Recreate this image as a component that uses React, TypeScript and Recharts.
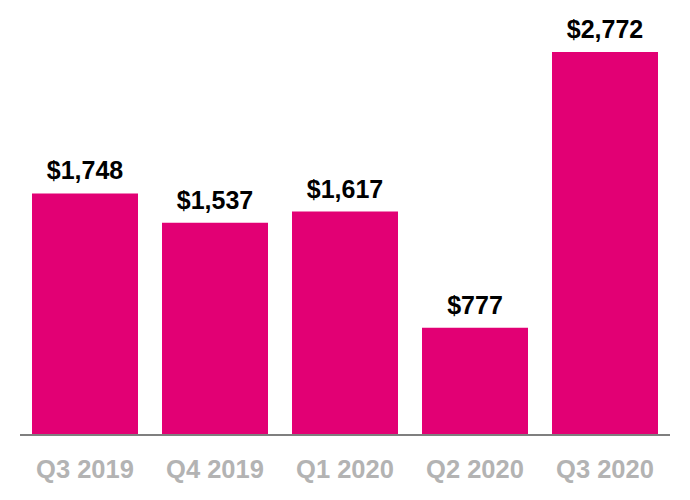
import React from 'react';
import { BarChart, Bar, XAxis, YAxis, LabelList } from 'recharts';

const categories = ['Q3 2019', 'Q4 2019', 'Q1 2020', 'Q2 2020', 'Q3 2020'];
const values = [1748, 1537, 1617, 777, 2772];

const data = categories.map((c, i) => ({ name: c, value: values[i] }));

const Tick = (props: any) => {
  const { x, y, payload } = props;
  return (
    <text x={x} y={y + 35} textAnchor="middle" fill="#b3b3b3" fontSize={25.5} fontWeight="bold" fontFamily="'Liberation Sans', Arial, sans-serif">
      {payload.value}
    </text>
  );
};

export default function App() {
  return (
    <div style={{ position: 'absolute', left: 0, top: 0 }}>
      <BarChart width={690} height={500} data={data} margin={{ top: 52, right: 20, bottom: 0, left: 20 }}>
        <YAxis hide domain={[0, 'dataMax']} />
        <XAxis dataKey="name" axisLine={{ stroke: '#7f7f7f', strokeWidth: 2 }} tickLine={false} tick={<Tick />} height={65} interval={0} />
        <Bar dataKey="value" fill="#E20074" barSize={106} isAnimationActive={false}>
          <LabelList
            dataKey="value"
            position="top"
            offset={14}
            formatter={(v: any) => '$' + Number(v).toLocaleString('en-US')}
            style={{ fill: '#000', fontSize: 25, fontWeight: 'bold', fontFamily: "'Liberation Sans', Arial, sans-serif" }}
          />
        </Bar>
      </BarChart>
    </div>
  );
}
